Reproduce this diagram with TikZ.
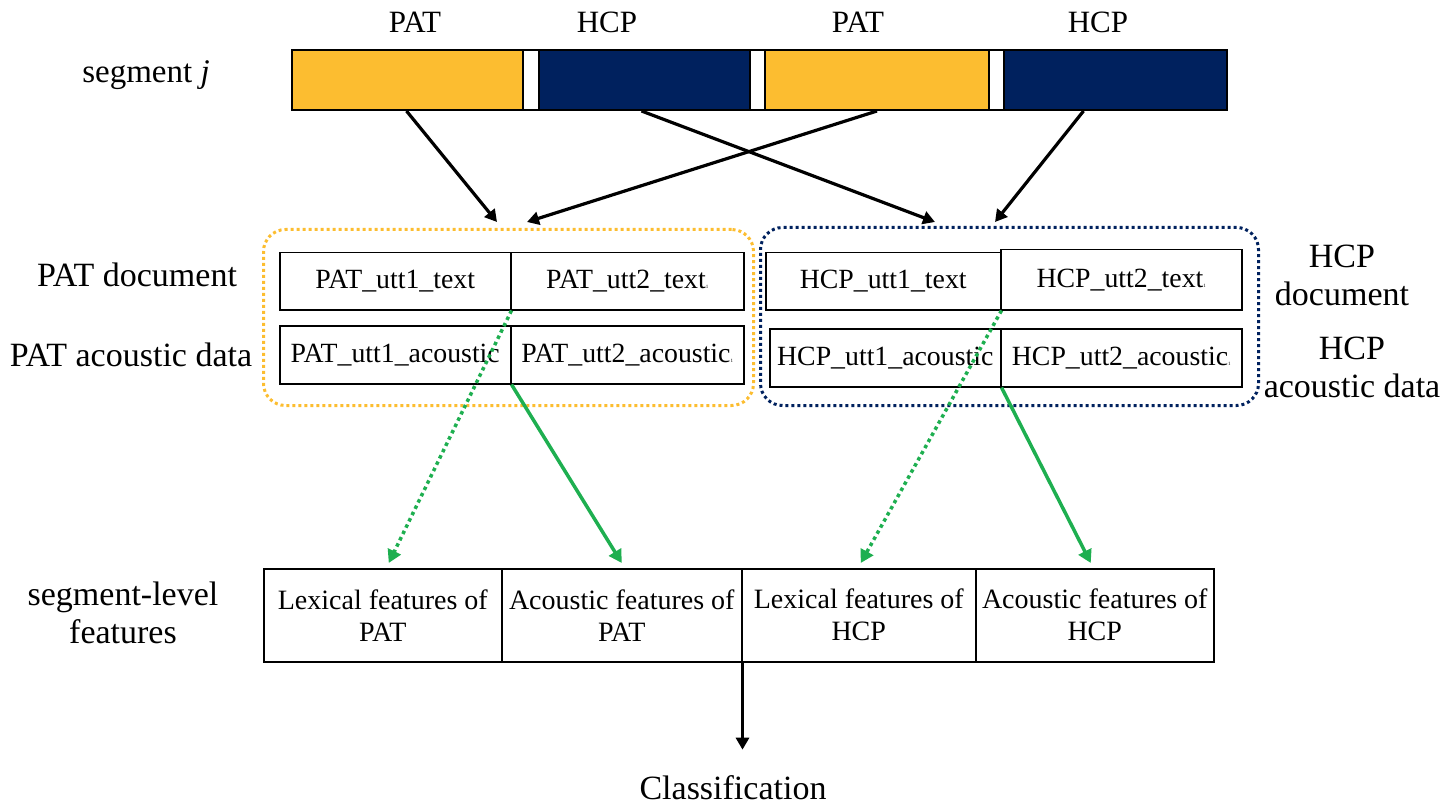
\documentclass[tikz,border=0pt]{standalone}
\usepackage{fontspec}
\setmainfont{Liberation Serif}
\usetikzlibrary{arrows.meta,calc}
\definecolor{pyellow}{RGB}{252,189,48}
\definecolor{pnavy}{RGB}{0,33,94}
\definecolor{pgreen}{RGB}{30,175,80}
\begin{document}
\begin{tikzpicture}[x=1pt,y=-1pt,
  seg/.style={draw=black,line width=2pt,anchor=north west,inner sep=0pt,minimum height=60pt},
  cell/.style={draw=black,line width=1.5pt,anchor=north west,inner sep=0pt,font=\fontsize{27.8}{33}\selectfont},
  fcell/.style={draw=black,line width=1.5pt,anchor=north west,inner sep=0pt,minimum height=93pt,align=center,font=\fontsize{28}{32}\selectfont},
  lbl/.style={font=\fontsize{34}{38}\selectfont,align=center,inner sep=0pt},
  toplbl/.style={font=\fontsize{31}{36}\selectfont,inner sep=0pt},
  grp/.style={line width=3pt,dash pattern=on 3pt off 3pt,rounded corners=22pt,anchor=north west,inner sep=0pt},
  arr/.style={line width=3.2pt,-{Triangle[length=12pt,width=13pt]}},
  garr/.style={line width=3.5pt,draw=pgreen,-{Triangle[length=13pt,width=14pt]}},
  gdot/.style={dash pattern=on 3.5pt off 3.5pt}]
\useasboundingbox (0,0) rectangle (1448,810);
% top bar
\node[seg,fill=pyellow,minimum width=231pt] (pat1) at (291,49) {};
\node[seg,fill=white,minimum width=16pt] (gap1) at (522,49) {};
\node[seg,fill=pnavy,minimum width=211pt] (hcp1) at (538,49) {};
\node[seg,fill=white,minimum width=15pt] (gap2) at (749,49) {};
\node[seg,fill=pyellow,minimum width=224pt] (pat2) at (764,49) {};
\node[seg,fill=white,minimum width=15pt] (gap3) at (988,49) {};
\node[seg,fill=pnavy,minimum width=223pt] (hcp2) at (1003,49) {};
\node[toplbl] (lp1) at (415,22) {PAT};
\node[toplbl] (lh1) at (607,22) {HCP};
\node[toplbl] (lp2) at (858,22) {PAT};
\node[toplbl] (lh2) at (1098,22) {HCP};
\node[lbl,font=\fontsize{33}{38}\selectfont] (segj) at (146,75) {segment \textit{j}};
% groups
\node[grp,draw=pyellow,minimum width=490pt,minimum height=176pt] (pbox) at (262,228) {};
\node[grp,draw=pnavy,minimum width=498pt,minimum height=178pt] (hbox) at (759,226) {};
% cells
\node[cell,minimum width=231pt,minimum height=57pt] (patT1) at (279,252) {PAT\_utt1\_text};
\node[cell,minimum width=233pt,minimum height=57pt] (patT2) at (510,252) {PAT\_utt2\_text{\fontsize{5}{6}\selectfont 1}};
\node[cell,minimum width=231pt,minimum height=58pt] (patA1) at (279,325) {PAT\_utt1\_acoustic};
\node[cell,minimum width=233pt,minimum height=58pt] (patA2) at (510,325) {PAT\_utt2\_acoustic{\fontsize{5}{6}\selectfont 1}};
\node[cell,minimum width=235pt,minimum height=57pt] (hcpT1) at (765,252) {HCP\_utt1\_text};
\node[cell,minimum width=241pt,minimum height=60pt] (hcpT2) at (1000,249) {HCP\_utt2\_text{\fontsize{5}{6}\selectfont 1}};
\node[cell,minimum width=231pt,minimum height=58pt] (hcpA1) at (769,328) {HCP\_utt1\_acoustic};
\node[cell,minimum width=241pt,minimum height=58pt] (hcpA2) at (1000,328) {HCP\_utt2\_acoustic{\fontsize{5}{6}\selectfont 1}};
% side labels
\node[lbl] (pdoc) at (137,275) {PAT document};
\node[lbl] (pac) at (131,355) {PAT acoustic data};
\node[lbl] (hdoc) at (1342,275) {HCP\\document};
\node[lbl] (hac) at (1352,367) {HCP\\acoustic data};
\node[lbl] (sfeat) at (123,613) {segment-level\\features};
% bottom cells
\node[fcell,minimum width=238pt] (lexP) at (263,568) {Lexical features of\\PAT};
\node[fcell,minimum width=240pt] (acP) at (501,568) {Acoustic features of\\PAT};
\node[fcell,minimum width=234pt] (lexH) at (741,568) {Lexical features of\\HCP};
\node[fcell,minimum width=238pt] (acH) at (975,568) {Acoustic features of\\HCP};
\node[lbl] (cls) at (733,788) {Classification};
% target coordinates
\coordinate (tp1) at (497,222);
\coordinate (tp2) at (527,222);
\coordinate (th1) at (935,222);
\coordinate (th2) at (995,222);
% black arrows
\draw[arr] ([xshift=-1pt]pat1.south) -- (tp1);
\draw[arr] (pat2.south) -- (tp2);
\draw[arr] ([xshift=-3pt]hcp1.south) -- (th1);
\draw[arr] ([xshift=-32pt]hcp2.south) -- (th2);
% green arrows
\draw[garr,gdot] (patT1.south east) -- ([xshift=6pt,yshift=5pt]lexP.north);
\draw[garr] (patA1.south east) -- ([yshift=5pt]acP.north);
\draw[garr,gdot] (hcpT1.south east) -- ([xshift=2pt,yshift=5pt]lexH.north);
\draw[garr] (hcpA1.south east) -- ([xshift=-4pt,yshift=5pt]acH.north);
% classification arrow
\coordinate (clsend) at ($(acP.south east |- cls.north)+(0,-26)$);
\draw[arr] (acP.south east) -- (clsend);
\end{tikzpicture}
\end{document}
